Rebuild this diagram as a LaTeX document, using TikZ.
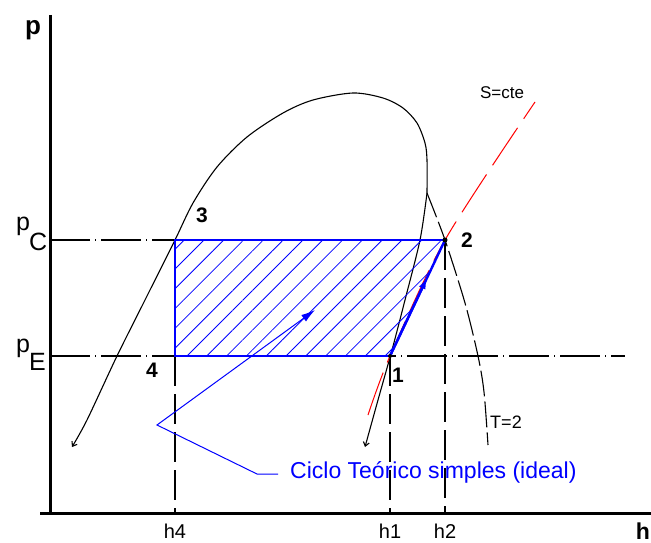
\documentclass[tikz,border=0pt]{standalone}
\usepackage{fontspec}
\setmainfont{Liberation Sans}
\usetikzlibrary{arrows.meta,patterns.meta,calc}

\begin{document}
\begin{tikzpicture}[
  x=1pt, y=-1pt,
  axis/.style={line width=3pt},
  level/.style={line width=1.2pt, dash pattern=on 40pt off 5pt on 1pt off 5pt},
  hline/.style={line width=1.2pt, dash pattern=on 30pt off 8pt},
  curve/.style={line width=1.1pt},
  cyc/.style={draw=blue, line width=1.6pt},
  callout/.style={draw=blue, line width=1pt},
  num/.style={font=\fontsize{21}{21}\selectfont\bfseries, inner sep=0pt},
  tick/.style={font=\fontsize{20}{20}\selectfont, inner sep=0pt},
  plabel/.style={font=\fontsize{25}{25}\selectfont, inner sep=0pt, anchor=base west}
]
\useasboundingbox (0,0) rectangle (651,543);

% axes
\coordinate (origin) at (50,513);
\coordinate (ytop) at (50,15);
\coordinate (xstart) at (40,513);
\coordinate (xend) at (651,513);
\draw[axis] (ytop) -- (origin);
\draw[axis] (xstart) -- (xend);
\node[font=\fontsize{26}{26}\selectfont\bfseries, inner sep=0pt] (paxis) at (33,30) {p};
\node[font=\fontsize{23}{23}\selectfont\bfseries, inner sep=0pt, anchor=base east] (haxis) at (650,539) {h};

% cycle corners
\coordinate (p3) at (175,240);
\coordinate (p2) at (445,240);
\coordinate (p1) at (390,356);
\coordinate (p4) at (175,356);

% pressure levels
\coordinate (pc) at (50,240);
\coordinate (pe) at (50,356);
\coordinate (peend) at (625,356);
\draw[level] (pc) -- (p3);
\draw[level] (pe) -- (peend);
\node[plabel] (pC) at (16,230) {p\kern-1pt\raisebox{-20pt}{C}};
\node[plabel] (pE) at (16,352) {p\kern-1pt\raisebox{-18pt}{E}};

% enthalpies
\coordinate (h4) at (175,513);
\coordinate (h1) at (390,513);
\coordinate (h2) at (445,513);
\draw[hline] (p4) -- (h4);
\draw[hline] (p1) -- (h1);
\draw[hline] (p2) -- (h2);
\node[tick] (h4lab) at (175,531) {h4};
\node[tick] (h1lab) at (390,531) {h1};
\node[tick] (h2lab) at (445,531) {h2};

% saturation dome
\draw[curve, -{Straight Barb[length=4pt,width=6pt]}] plot[smooth, tension=0.5] coordinates
  {(427,193) (427,160) (425,143) (417,123) (403,108) (383,98) (353,93) (313,100) (283,113) (247,137) (217,167) (193,203) (175,240) (145,300) (117,356) (87,420) (72,447)};
\draw[curve, -{Straight Barb[length=4pt,width=6pt]}] plot[smooth] coordinates
  {(427,193) (420,240) (405,300) (392,350) (378,400) (365,447)};
% isotherm
\draw[curve, dash pattern=on 26pt off 5pt] plot[smooth] coordinates
  {(427,193) (445,240) (465,303) (478,356) (484,392) (488,445)};
\node[font=\fontsize{18}{18}\selectfont, inner sep=0pt] (tlab) at (506,422) {T=2};

% isentrope
\draw[red, line width=1pt, dash pattern=on 45pt off 11pt] plot[smooth] coordinates
  {(368,415) (390,356) (445,240) (535,102)};
\node[font=\fontsize{17}{17}\selectfont, inner sep=0pt] (slab) at (502,93) {S=cte};

% ideal cycle
\fill[pattern={Lines[angle=45,distance=14pt,line width=0.8pt]}, pattern color=blue]
  (p4) -- (p3) -- (p2) -- (p1) -- cycle;
\draw[cyc] (p1) -- (p4) -- (p3) -- (p2);
\draw[cyc, line width=2.4pt] (p2) -- (p1);
\draw[cyc, line width=2.4pt, -{Latex[length=12pt,width=7pt]}] (p1) -- ($(p1)!0.68!(p2)$);
\fill (p1) circle (2);
\fill (p2) circle (2.5);

\node[num] (n1) at (398,375) {1};
\node[num] (n2) at (467,240) {2};
\node[num] (n3) at (202,215) {3};
\node[num] (n4) at (152,370) {4};

% callout
\node[font=\fontsize{23}{23}\selectfont, text=blue, anchor=west, inner sep=0pt] (ciclo) at (290,472) {Ciclo Teórico simples (ideal)};
\coordinate (lead) at (278,474);
\coordinate (knee) at (257,474);
\coordinate (bend) at (157,425);
\coordinate (tip) at (315,310);
\draw[callout, -{Latex[length=14pt,width=8pt]}] (lead) -- (knee) -- (bend) -- (tip);
\end{tikzpicture}
\end{document}
